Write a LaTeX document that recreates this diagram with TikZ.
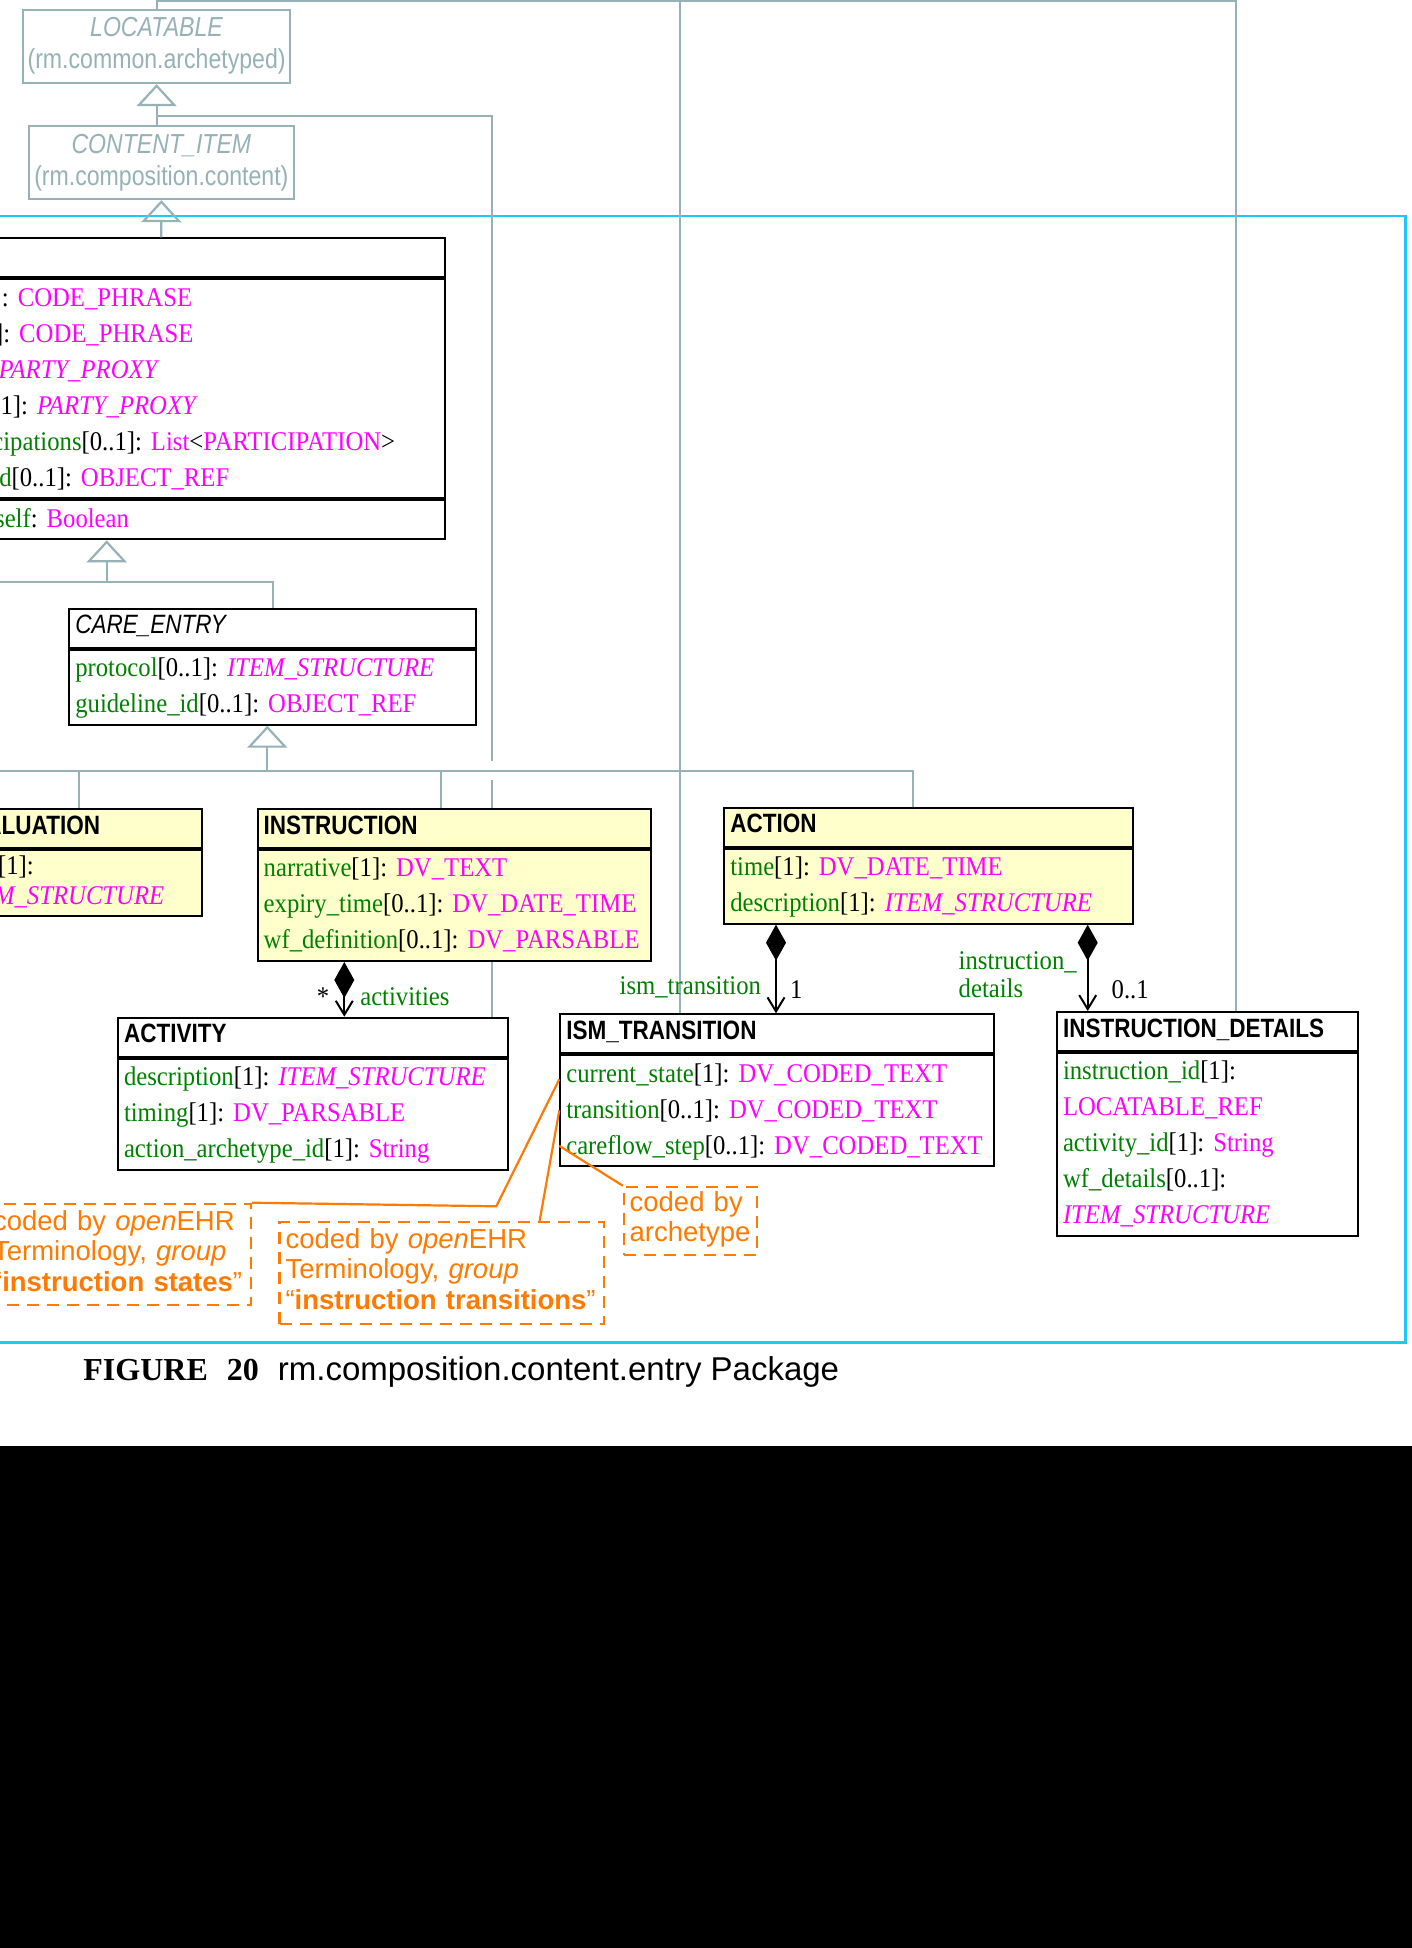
\documentclass[tikz,border=0pt]{standalone}
\usepackage{fontspec}
\setmainfont[FakeStretch=0.915]{Liberation Serif}
\newfontfamily\capfont{Liberation Serif}
\newfontfamily\clsfont[FakeStretch=0.85]{Liberation Sans}
\newfontfamily\pkgfont[FakeStretch=0.84]{Liberation Sans}
\newfontfamily\notefont{Liberation Sans}
\usepackage{tikz}
\usetikzlibrary{arrows.meta,positioning,calc}
\usepackage{xcolor}
\definecolor{umlyellow} {RGB}{255,255,204}
\definecolor{attrgreen} {RGB}{  0,128,  0}
\definecolor{typepink}  {RGB}{255,  0,255}
\definecolor{pkggrey}   {RGB}{150,178,183}
\definecolor{framecyan} {RGB}{ 30,200,250}
\definecolor{noteorange}{RGB}{255,122,  0}

\newcommand{\an}[1]{\textcolor{attrgreen}{#1}}
\newcommand{\tn}[1]{\textcolor{typepink}{#1}}
\newcommand{\rw}[1]{\mbox{\strut#1}}
\frenchspacing

\begin{document}
\begin{tikzpicture}[
    x=1pt, y=-1pt, node distance=0pt,
    hdr/.style={draw, line width=2pt, rectangle, fill=white, inner xsep=6pt, inner ysep=0pt, minimum height=39pt, text height=19pt, text depth=8pt, align=left, font=\clsfont\fontsize{26.5}{30}\selectfont\bfseries},
    hdrabs/.style={hdr, font=\clsfont\fontsize{26.5}{30}\selectfont\itshape},
    body/.style={draw, line width=2pt, rectangle, fill=white, inner xsep=6pt, inner ysep=1.5pt, align=left, font=\fontsize{27}{36}\selectfont},
    conc/.style={fill=umlyellow},
    pkg/.style={draw=pkggrey, line width=2.2pt, rectangle, inner sep=0pt, align=center, text=pkggrey, font=\pkgfont\fontsize{27.5}{32}\selectfont},
    gen/.style={draw=pkggrey, line width=2.2pt},
    super/.style={gen, -{Triangle[open, length=22pt, width=40pt]}},
    comp/.style={line width=2pt, {Diamond[length=36pt, width=20pt]}-{Straight Barb[length=14pt, width=17pt]}},
    note/.style={draw=noteorange, line width=2.2pt, dash pattern=on 12pt off 8pt, text=noteorange, inner xsep=6pt, inner ysep=5pt, align=left, font=\notefont\fontsize{27.5}{30.5}\selectfont},
    noteline/.style={draw=noteorange, line width=2.2pt},
    lbl/.style={inner sep=0pt, text=attrgreen, font=\fontsize{27}{28.5}\selectfont},
    mult/.style={inner sep=0pt, font=\fontsize{27}{28.5}\selectfont}
]
    \useasboundingbox (0,0) rectangle (1412,1948);
    \clip (0,0) rectangle (1412,1948);
    \fill[white] (0,0) rectangle (1412,1446);
    \fill[black] (0,1446) rectangle (1412,1948);

    % package frame
    \draw[framecyan, line width=2.6pt] (-20,216) rectangle (1405.7,1342.3);

    % outer packages
    \node[pkg, minimum width=267pt, minimum height=73pt, anchor=north west] (locatable) at (22,9) {\strut\textit{LOCATABLE}\\\strut(rm.common.archetyped)};
    \node[pkg, minimum width=264.5pt, minimum height=73pt, anchor=north west] (contentitem) at (28,125) {\strut\textit{CONTENT\_ITEM}\\\strut(rm.composition.content)};

    % ENTRY
    \node[hdr, text width=554.5pt, anchor=north west] (entry) at (-123,237.3) {};
    \node[body, text width=554.5pt, below=of entry] (entry-a) {\rw{\an{language}[1]: \tn{CODE\_PHRASE}}\\
        \rw{\an{encoding}[1]: \tn{CODE\_PHRASE}}\\
        \rw{\an{subject}[1]: \tn{\textit{PARTY\_PROXY}}}\\
        \rw{\an{provider}[0..1]: \tn{\textit{PARTY\_PROXY}}}\\
        \rw{\an{other\_participations}[0..1]: \tn{List}<\tn{PARTICIPATION}>}\\
        \rw{\an{workflow\_id}[0..1]: \tn{OBJECT\_REF}}};
    \node[body, text width=554.5pt, below=of entry-a] (entry-f) {\rw{\an{subject\_is\_self}: \tn{Boolean}}};

    % CARE_ENTRY
    \node[hdrabs, text width=394.7pt, anchor=north west] (care) at (68.3,607.7) {CARE\_ENTRY};
    \node[body, text width=394.7pt, below=of care] (care-b) {\rw{\an{protocol}[0..1]: \tn{\textit{ITEM\_STRUCTURE}}}\\
        \rw{\an{guideline\_id}[0..1]: \tn{OBJECT\_REF}}};

    % concrete entries
    \node[hdr, conc, text width=239pt, anchor=north west] (eval) at (-50,808) {EVALUATION};
    \node[body, conc, text width=239pt, inner ysep=3pt, font=\fontsize{27}{30}\selectfont, below=of eval] (eval-b) {\rw{\an{data}[1]:}\\
        \rw{\tn{\textit{ITEM\_STRUCTURE}}}};

    \node[hdr, conc, text width=381.3pt, anchor=north west] (instr) at (256.7,808) {INSTRUCTION};
    \node[body, conc, text width=381.3pt, below=of instr] (instr-b) {\rw{\an{narrative}[1]: \tn{DV\_TEXT}}\\
        \rw{\an{expiry\_time}[0..1]: \tn{DV\_DATE\_TIME}}\\
        \rw{\an{wf\_definition}[0..1]: \tn{DV\_PARSABLE}}};

    \node[hdr, conc, text width=396.3pt, anchor=north west] (action) at (723.3,806.7) {ACTION};
    \node[body, conc, text width=396.3pt, below=of action] (action-b) {\rw{\an{time}[1]: \tn{DV\_DATE\_TIME}}\\
        \rw{\an{description}[1]: \tn{\textit{ITEM\_STRUCTURE}}}};

    % parts
    \node[hdr, text width=378pt, anchor=north west] (activity) at (117,1016.7) {ACTIVITY};
    \node[body, text width=378pt, below=of activity] (activity-b) {\rw{\an{description}[1]: \tn{\textit{ITEM\_STRUCTURE}}}\\
        \rw{\an{timing}[1]: \tn{DV\_PARSABLE}}\\
        \rw{\an{action\_archetype\_id}[1]: \tn{String}}};

    \node[hdr, text width=421.7pt, anchor=north west] (ism) at (559.3,1013.3) {ISM\_TRANSITION};
    \node[body, text width=421.7pt, below=of ism] (ism-b) {\rw{\an{current\_state}[1]: \tn{DV\_CODED\_TEXT}}\\
        \rw{\an{transition}[0..1]: \tn{DV\_CODED\_TEXT}}\\
        \rw{\an{careflow\_step}[0..1]: \tn{DV\_CODED\_TEXT}}};

    \node[hdr, text width=289pt, anchor=north west] (idet) at (1056,1011) {INSTRUCTION\_DETAILS};
    \node[body, text width=289pt, below=of idet] (idet-b) {\rw{\an{instruction\_id}[1]:}\\
        \rw{\tn{LOCATABLE\_REF}}\\
        \rw{\an{activity\_id}[1]: \tn{String}}\\
        \rw{\an{wf\_details}[0..1]:}\\
        \rw{\tn{\textit{ITEM\_STRUCTURE}}}};

    % notes
    \node[note, text width=251.7pt, anchor=north west] (states) at (-14,1202.7) {\rw{coded by \textit{open}EHR}\\
        \rw{Terminology, \textit{group}}\\
        \rw{“\textbf{instruction states}”}};
    \node[note, text width=312.4pt, anchor=north west] (trans) at (278.4,1221) {\rw{coded by \textit{open}EHR}\\
        \rw{Terminology, \textit{group}}\\
        \rw{“\textbf{instruction transitions}”}};
    \node[note, text width=121.5pt, inner xsep=5.75pt, inner ysep=4pt, font=\notefont\fontsize{27.5}{30}\selectfont, anchor=north west] (arch) at (622.8,1185.7) {\rw{coded by}\\\rw{archetype}};

    \node[anchor=base west, inner sep=0pt] (caption) at (83.2,1380) {\capfont\fontsize{32}{36}\selectfont\textbf{FIGURE}\hspace{19pt}\textbf{20}\hspace{19pt}{\notefont\fontsize{33}{36}\selectfont rm.composition.content.entry Package}};

    % inheritance lines
    \coordinate (cut) at (0,1);
    \coordinate (ism-in) at ([xshift=120.7pt]ism.north west);
    \coordinate (det-in) at ([xshift=180pt]idet.north west);
    \draw[gen, line width=1.8pt] (locatable.north) |- (cut -| det-in) -- (det-in);
    \draw[gen, line width=1.8pt] (cut -| ism-in) -- (ism-in);

    \draw[super] (contentitem.north -| locatable.south) -- (locatable.south);
    \draw[super] (entry.north) -- (contentitem.south);

    \coordinate (spec-bar) at (0,770.7);
    \coordinate (loc-branch) at ([yshift=-31.6pt]locatable.south);
    \coordinate (act-in) at ([xshift=375pt]activity.north west);
    \draw[gen] (loc-branch) -| ($(spec-bar -| act-in)+(0,-10)$);
    \draw[gen] ($(spec-bar -| act-in)+(0,9.5)$) -- (act-in |- instr.north);
    \draw[gen] (act-in |- instr-b.south) -- (act-in);

    \coordinate (entry-tri) at ([xshift=229.7pt]entry-f.south west);
    \coordinate (entry-bar) at (0,582.3);
    \draw[gen] (entry-bar) -- (entry-bar -| care.north) -- (care.north);
    \draw[super] (entry-bar -| entry-tri) -- (entry-tri);

    \coordinate (care-tri) at ([xshift=199pt]care-b.south west);
    \coordinate (eval-in) at ([xshift=129pt]eval.north west);
    \coordinate (instr-in) at ([xshift=184pt]instr.north west);
    \coordinate (action-in) at ([xshift=190pt]action.north west);
    \draw[gen] (spec-bar) -- (spec-bar -| action-in) -- (action-in);
    \draw[gen] (spec-bar -| eval-in) -- (eval-in);
    \draw[gen] (spec-bar -| instr-in) -- (instr-in);
    \draw[super] (spec-bar -| care-tri) -- (care-tri);

    % note links
    \coordinate (st-from) at ([yshift=-25pt]ism-b.north west);
    \coordinate (tr-note) at ([yshift=-56pt]ism-b.north west);
    \coordinate (cf-note) at ([yshift=-91.5pt]ism-b.north west);
    \draw[noteline] (st-from) -- ++(-63,127) -- (states.north east);
    \draw[noteline] (tr-note) -- ([xshift=261.2pt]trans.north west);
    \draw[noteline] (cf-note) -- (arch.north west);

    % compositions
    \coordinate (act-from) at ([xshift=87.6pt]instr-b.south west);
    \coordinate (tr-from) at ([xshift=52.7pt]action-b.south west);
    \coordinate (det-from) at ([xshift=364.4pt]action-b.south west);
    \draw[comp] (act-from) -- node[pos=0.63, left=14pt, mult] {*} node[pos=0.63, right=15pt, lbl] {activities} (act-from |- activity.north);
    \draw[comp] (tr-from) -- node[pos=0.705, left=14pt, lbl] {ism\_transition} node[pos=0.736, right=13pt, mult] {1} (tr-from |- ism.north);
    \draw[comp] (det-from) -- node[pos=0.58, left=10pt, lbl, align=left] {instruction\_\\details} node[pos=0.756, right=23pt, mult] {0..1} (det-from |- idet.north);
\end{tikzpicture}
\end{document}
